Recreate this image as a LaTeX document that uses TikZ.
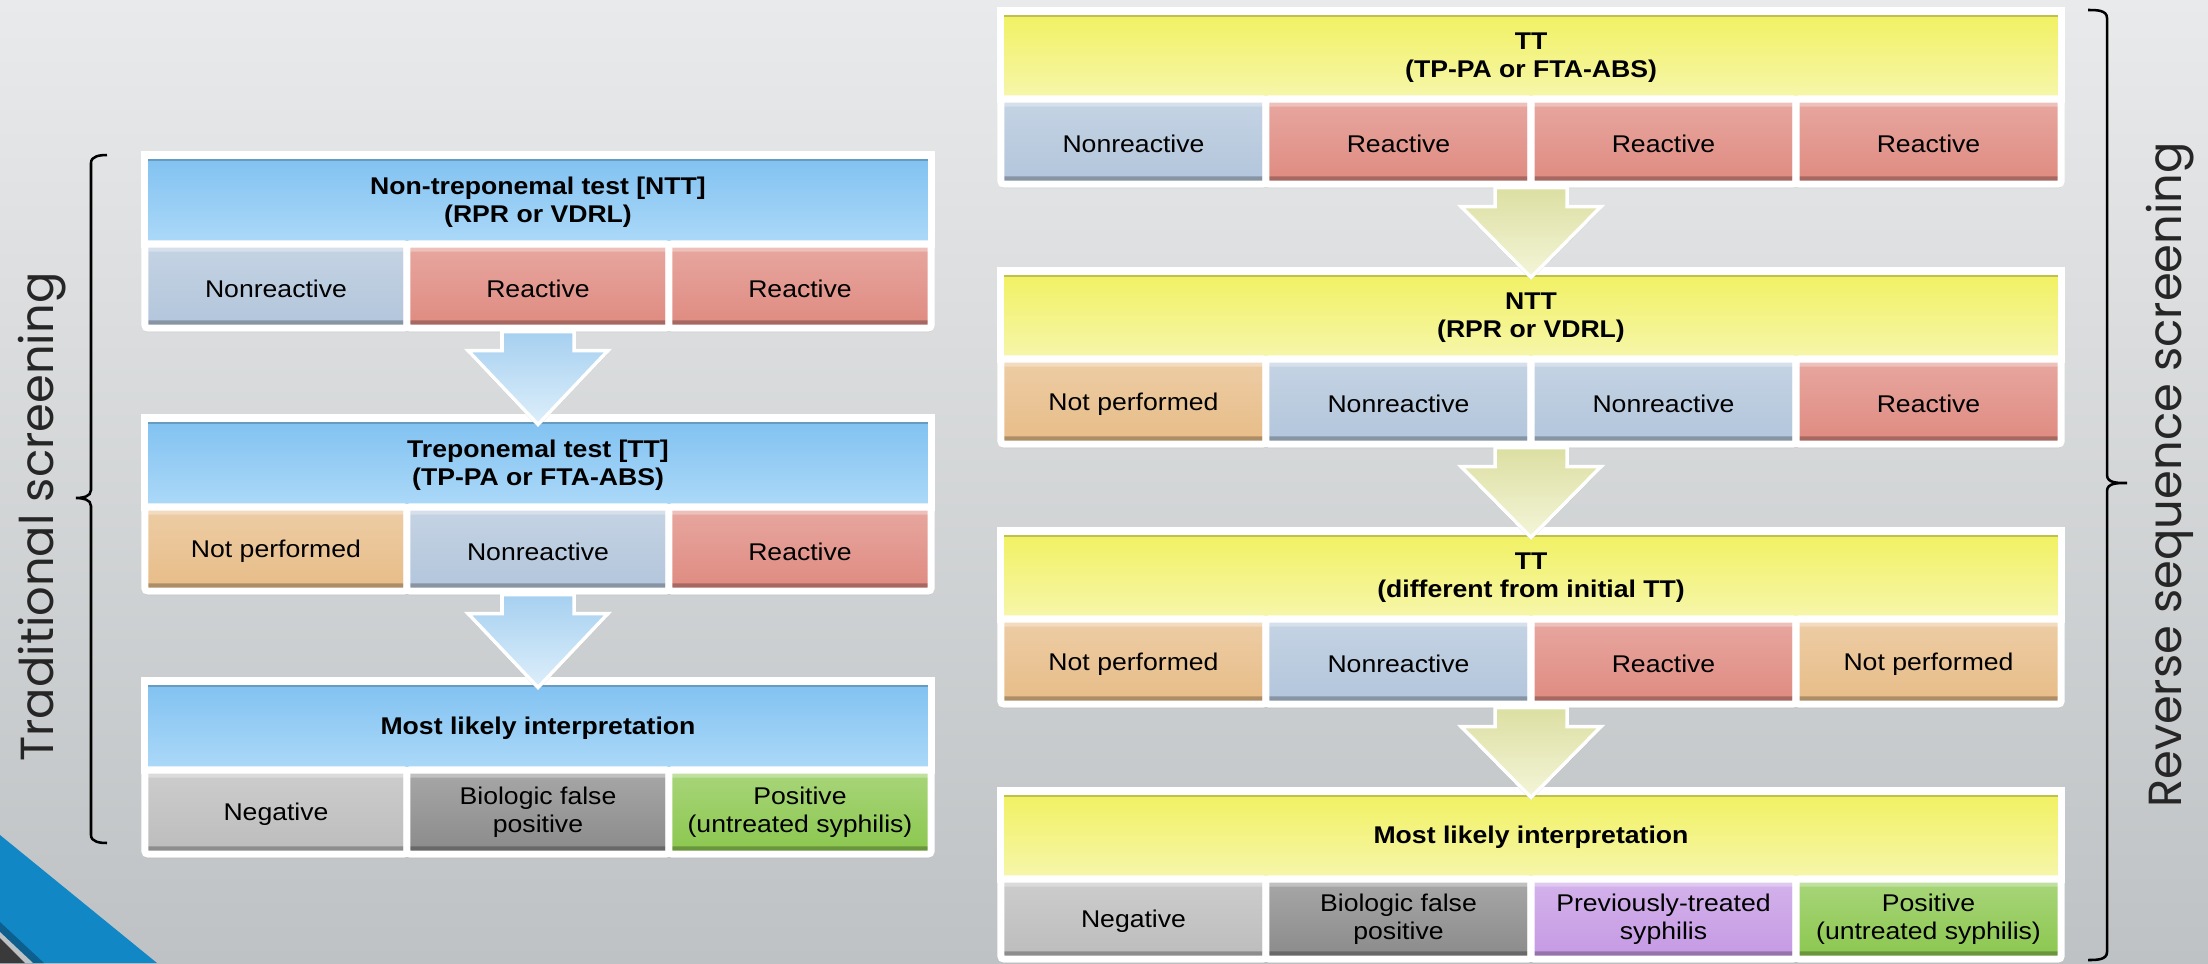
\documentclass[tikz,border=0pt]{standalone}
\usepackage{fontspec}
\setmainfont{Liberation Sans}[FakeStretch=1.1]
\newfontfamily\sidefont{Poppins}
\usetikzlibrary{calc,shadows}

\definecolor{bgtop}{HTML}{E9EAEB}
\definecolor{bgbot}{HTML}{BEC2C4}
\definecolor{hdrblueA}{HTML}{80C1F1}
\definecolor{hdrblueB}{HTML}{ACD9F8}
\definecolor{hdryelA}{HTML}{F1F160}
\definecolor{hdryelB}{HTML}{F6F6AC}
\definecolor{cNonreac}{HTML}{B2C5DB}
\definecolor{cReac}{HTML}{DF8A80}
\definecolor{cNotperf}{HTML}{E7BC87}
\definecolor{cNeg}{HTML}{BCBCBC}
\definecolor{cBfp}{HTML}{8A8A8A}
\definecolor{cPrev}{HTML}{C599E4}
\definecolor{cPos}{HTML}{8BC74E}
\definecolor{arrblueA}{HTML}{A6D0F0}
\definecolor{arrblueB}{HTML}{DDEFFB}
\definecolor{arryelA}{HTML}{DCDFA2}
\definecolor{arryelB}{HTML}{F4F5D8}
\definecolor{themeblue}{HTML}{1187C6}
\definecolor{themedark}{HTML}{0D5F8E}
\definecolor{themegrey}{HTML}{3A3A3A}

\tikzset{
  box/.style={draw=white, line width=5pt, inner sep=0pt, align=center,
    font=\fontsize{17.2}{19.9}\selectfont,
    drop shadow={opacity=.3, shadow xshift=0pt, shadow yshift=-3pt}},
  hdr/.style={box, font=\fontsize{17.2}{19.9}\selectfont\bfseries, text depth=-0.5pt,
    path picture={\fill[black,opacity=.2] (path picture bounding box.north west)
      rectangle ([yshift=-4pt]path picture bounding box.north east);}},
  lhdr/.style={hdr, top color=hdrblueA, bottom color=hdrblueB,
    minimum width=19.65cm, minimum height=2.225cm},
  rhdr/.style={hdr, top color=hdryelA, bottom color=hdryelB,
    minimum width=26.5cm, minimum height=2.2cm},
  cell/.style={box, rounded corners=2pt, top color=#1!75!white, bottom color=#1,
    execute at begin node={\rule{0pt}{16pt}},
    path picture={
      \fill[white,opacity=.3] (path picture bounding box.north west)
        rectangle ([yshift=-5.5pt]path picture bounding box.north east);
      \fill[black,opacity=.25] (path picture bounding box.south west)
        rectangle ([yshift=5.5pt]path picture bounding box.south east);}},
  lcell/.style={cell=#1, minimum width=6.55cm, minimum height=2.1cm},
  rcell/.style={cell=#1, minimum width=6.625cm, minimum height=2.125cm},
  arrowblue/.style={draw=white, line width=2.5pt, top color=arrblueA, bottom color=arrblueB,
    drop shadow={opacity=.25, shadow xshift=0pt, shadow yshift=-2pt}},
  arrowyel/.style={draw=white, line width=2.5pt, top color=arryelA, bottom color=arryelB,
    drop shadow={opacity=.25, shadow xshift=0pt, shadow yshift=-2pt}},
  brace/.style={line width=1.8pt, black},
  sidelbl/.style={font=\sidefont\fontsize{33}{40}\selectfont, text=black!85}
}

% block arrow from the cells of one test down to the next header
\newcommand\flowarrow[4]{%
  \coordinate (s) at (#1 |- #2.south);
  \path[#4] ($(s)+(-36,0)$) -- ($(s)+(36,0)$) -- ($(s)+(36,19)$) -- ($(s)+(70,19)$)
    -- ($(#3.north)+(0,10)$) -- ($(s)+(-70,19)$) -- ($(s)+(-36,19)$) -- cycle;}

\begin{document}
\begin{tikzpicture}[x=0.025cm, y=-0.025cm]
    \useasboundingbox (0,0) rectangle (2208,963);
    \fill[top color=bgtop, bottom color=bgbot] (0,0) rectangle (2208,963);

    % corner of the slide
    \fill[themeblue] (0,835) -- (157,963) -- (0,963) -- cycle;
    \fill[themedark] (0,922) -- (44,963) -- (0,963) -- cycle;
    \fill[bgbot] (0,932) -- (33,963) -- (0,963) -- cycle;
    \fill[themegrey] (0,938) -- (25,963) -- (0,963) -- cycle;

    % traditional screening
    \node[lhdr] (ntt) at (538,199.5) {Non-treponemal test [NTT]\\(RPR or VDRL)};
    \foreach \txt/\col [count=\i] in {Nonreactive/cNonreac, Reactive/cReac, Reactive/cReac}
      \node[lcell=\col] (ntt\i) at ({145+262*(\i-0.5)},286) {\txt};

    \node[lhdr] (tt) at (538,462.5) {Treponemal test [TT]\\(TP-PA or FTA-ABS)};
    \foreach \txt/\col [count=\i] in {Not performed/cNotperf, Nonreactive/cNonreac, Reactive/cReac}
      \node[lcell=\col] (tt\i) at ({145+262*(\i-0.5)},549) {\txt};

    \node[lhdr] (res) at (538,725.5) {Most likely interpretation};
    \foreach \txt/\col [count=\i] in {Negative/cNeg, Biologic false\\positive/cBfp,
        Positive\\(untreated syphilis)/cPos}
      \node[lcell=\col] (res\i) at ({145+262*(\i-0.5)},812) {\txt};

    \flowarrow{ntt}{ntt2}{tt}{arrowblue}
    \flowarrow{tt}{tt2}{res}{arrowblue}

    % reverse sequence screening
    \node[rhdr] (rtt) at (1531,55) {TT\\(TP-PA or FTA-ABS)};
    \foreach \txt/\col [count=\i] in {Nonreactive/cNonreac, Reactive/cReac, Reactive/cReac, Reactive/cReac}
      \node[rcell=\col] (rtt\i) at ({1001+265*(\i-0.5)},141.5) {\txt};

    \node[rhdr] (rntt) at (1531,315) {NTT\\(RPR or VDRL)};
    \foreach \txt/\col [count=\i] in {Not performed/cNotperf, Nonreactive/cNonreac,
        Nonreactive/cNonreac, Reactive/cReac}
      \node[rcell=\col] (rntt\i) at ({1001+265*(\i-0.5)},401.5) {\txt};

    \node[rhdr] (rconf) at (1531,575) {TT\\(different from initial TT)};
    \foreach \txt/\col [count=\i] in {Not performed/cNotperf, Nonreactive/cNonreac,
        Reactive/cReac, Not performed/cNotperf}
      \node[rcell=\col] (rconf\i) at ({1001+265*(\i-0.5)},661.5) {\txt};

    \node[rhdr] (rres) at (1531,835) {Most likely interpretation};
    \foreach \txt/\col [count=\i] in {Negative/cNeg, Biologic false\\positive/cBfp,
        Previously-treated\\syphilis/cPrev, Positive\\(untreated syphilis)/cPos}
      \node[rcell=\col, minimum height=2cm] (rres\i) at ({1001+265*(\i-0.5)},919) {\txt};

    \flowarrow{rtt}{rtt2}{rntt}{arrowyel}
    \flowarrow{rntt}{rntt2}{rconf}{arrowyel}
    \flowarrow{rconf}{rconf2}{rres}{arrowyel}

    % braces
    \draw[brace] (107,155) to[out=180,in=90] (91,163) -- (91,490) to[out=-90,in=0] (76,498)
      to[out=0,in=90] (91,506) -- (91,835) to[out=-90,in=180] (107,843);
    \draw[brace] (2088,10) to[out=0,in=90] (2107,18) -- (2107,475) to[out=-90,in=180] (2127,483)
      to[out=180,in=90] (2107,491) -- (2107,952) to[out=-90,in=0] (2088,960);

    % add labels
    \node[sidelbl, rotate=90] (trad) at (42,517) {Traditional screening};
    \node[sidelbl, rotate=90] (rev) at (2170,475) {Reverse sequence screening};
\end{tikzpicture}
\end{document}
